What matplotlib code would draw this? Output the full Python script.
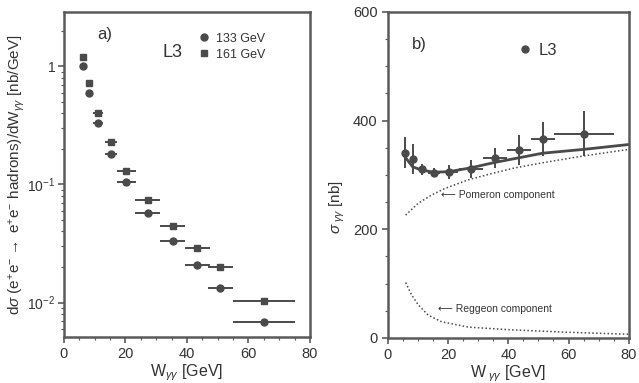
import numpy as np
import matplotlib
matplotlib.use("Agg")
import matplotlib.pyplot as plt
from matplotlib.lines import Line2D
from matplotlib.ticker import FixedLocator, FixedFormatter, MultipleLocator, NullFormatter

plt.rcParams['font.family'] = ['Liberation Sans', 'DejaVu Sans']
plt.rcParams['mathtext.fontset'] = 'custom'
plt.rcParams['mathtext.rm'] = 'Liberation Sans'
plt.rcParams['mathtext.it'] = 'Liberation Sans:italic'
plt.rcParams['mathtext.sf'] = 'Liberation Sans'

# ---- panel a) : d sigma / dW for two beam energies
w_a = [6.2, 8.1, 11.1, 15.3, 20.3, 27.2, 35.4, 43.4, 50.9, 65.0]
w_a_err = [0.0, 0.0, 1.5, 2.0, 3.0, 4.0, 4.0, 4.0, 4.0, 10.0]
ds_133 = [1.0, 0.59, 0.331, 0.183, 0.105, 0.0571, 0.0333, 0.0206, 0.0134, 0.0068]
ds_161 = [1.21, 0.73, 0.405, 0.228, 0.131, 0.0746, 0.0447, 0.0291, 0.0199, 0.0104]

# ---- panel b) : total cross section and fit components
w_b = [5.6, 8.2, 11.2, 15.3, 20.2, 27.5, 35.5, 43.5, 51.4, 65.2]
w_b_err = [0.0, 0.0, 1.5, 2.0, 3.0, 4.0, 4.0, 4.0, 4.0, 10.0]
sig = [341, 329, 310, 304, 305, 311, 331, 346, 366, 376]
sig_err = [28, 27, 10, 8, 13, 16, 19, 27, 32, 41]

fit_w = [5.6, 8.2, 11.2, 15.3, 20.2, 27.5, 35.5, 43.0, 51.4, 65.0, 80.0]
fit_total = [334, 315, 309, 305, 306, 313, 323, 331, 340, 347, 356]
pom_w = [5.9, 10.1, 14.5, 18.9, 26.7, 35.5, 42.2, 51.0, 65.0, 80.0]
pom_sig = [226, 248, 263, 275, 291, 304, 313, 322, 335, 347]
reg_w = [5.9, 7.9, 10.1, 13.4, 17.8, 26.7, 41.0, 59.9, 79.8]
reg_sig = [102, 79, 61, 42, 30, 20, 15, 10.5, 7]

dark = '#4a4a4a'
frame = '#5a5a5a'

fig = plt.figure(figsize=(6.39, 3.83), dpi=100)
ax1 = fig.add_axes([0.100, 0.120, 0.385, 0.849])
ax2 = fig.add_axes([0.607, 0.1175, 0.377, 0.8515])

for ax in (ax1, ax2):
    for s in ax.spines.values():
        s.set_color(frame)
        s.set_linewidth(1.8)
    ax.tick_params(which='both', direction='out', colors=frame, labelcolor='#333333',
                   labelsize=10.5, top=False, right=False)
    ax.tick_params(which='major', length=4, width=1.2)
    ax.tick_params(which='minor', length=2, width=0.8)
    ax.set_xlim(0, 80)
    ax.xaxis.set_major_locator(MultipleLocator(20))
    ax.xaxis.set_minor_locator(MultipleLocator(5))

# panel a
ax1.set_yscale('log')
ax1.set_ylim(0.0051, 2.9)
ax1.errorbar(w_a, ds_161, xerr=w_a_err, fmt='s', color=dark, ms=5, elinewidth=1.4, capsize=0)
ax1.errorbar(w_a, ds_133, xerr=w_a_err, fmt='o', color=dark, ms=5, elinewidth=1.4, capsize=0)
ax1.yaxis.set_major_locator(FixedLocator([1, 0.1, 0.01]))
ax1.yaxis.set_major_formatter(FixedFormatter(['1', r'$10^{-1}$', r'$10^{-2}$']))
ax1.yaxis.set_minor_formatter(NullFormatter())
ax1.tick_params(axis='y', labelsize=10, pad=2)
ax1.set_xlabel(r'W$_{\gamma\gamma}$ [GeV]', fontsize=11.5, color='#333333', labelpad=1)
ax1.set_ylabel(r'd$\sigma$ (e$^{+}$e$^{-}$$\rightarrow$ e$^{+}$e$^{-}$ hadrons)/dW$_{\gamma\gamma}$ [nb/GeV]',
               fontsize=11, color='#333333')
ax1.yaxis.set_label_coords(-0.15, 0.5)
ax1.text(0.135, 0.93, 'a)', transform=ax1.transAxes, fontsize=12, color='#333333', va='center')
ax1.text(0.40, 0.875, 'L3', transform=ax1.transAxes, fontsize=13, color='#333333', va='center')
h1 = [Line2D([], [], ls='', marker='o', color=dark, ms=5),
      Line2D([], [], ls='', marker='s', color=dark, ms=5)]
ax1.legend(h1, ['133 GeV', '161 GeV'], loc='upper left', bbox_to_anchor=(0.52, 0.955),
           frameon=False, fontsize=9, handletextpad=0.4, labelspacing=0.3,
           handlelength=1.0, borderpad=0, labelcolor='#333333')

# panel b
ax2.set_ylim(0, 600)
ax2.yaxis.set_major_locator(MultipleLocator(200))
ax2.yaxis.set_minor_locator(MultipleLocator(50))
ax2.plot(fit_w, fit_total, color=dark, lw=2.0)
ax2.plot(pom_w, pom_sig, color=dark, lw=1.1, ls=(0, (1, 1.5)))
ax2.plot(reg_w, reg_sig, color=dark, lw=1.1, ls=(0, (1, 1.5)))
ax2.errorbar(w_b, sig, xerr=w_b_err, yerr=sig_err, fmt='o', color=dark, ms=5,
             elinewidth=1.4, capsize=0)
ax2.set_xlabel(r'W$_{\ \gamma\gamma}$ [GeV]', fontsize=11.5, color='#333333', labelpad=1)
ax2.set_ylabel(r'$\sigma_{\ \gamma\gamma}$ [nb]', fontsize=11, color='#333333', labelpad=4)
ax2.yaxis.set_label_coords(-0.17, 0.4)
ax2.text(0.10, 0.90, 'b)', transform=ax2.transAxes, fontsize=12, color='#333333', va='center')
h2 = [Line2D([], [], ls='', marker='o', color=dark, ms=5)]
ax2.legend(h2, ['L3'], loc='upper left', bbox_to_anchor=(0.50, 0.93), frameon=False,
           fontsize=12, handletextpad=0.3, handlelength=1.0, borderpad=0, labelcolor='#333333')
ax2.text(17.5, 263, '\u27f5 Pomeron component', fontsize=7.5, color='#333333', va='center')
ax2.text(16.5, 53, '\u27f5 Reggeon component', fontsize=7.5, color='#333333', va='center')

fig.savefig('out.png', dpi=100)
